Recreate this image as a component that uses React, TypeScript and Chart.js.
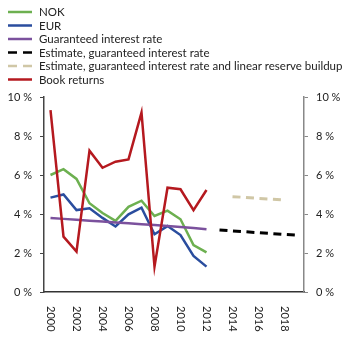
import React, { useEffect, useRef } from "react";
import { Chart, registerables } from "chart.js";

Chart.register(...registerables);

const years = ["2000","2001","2002","2003","2004","2005","2006","2007","2008","2009","2010","2011","2012","2013","2014","2015","2016","2017","2018","2019"];
const xTickLabels = ["2000","2002","2004","2006","2008","2010","2012","2014","2016","2018"];
const yTicks = [0, 2, 4, 6, 8, 10];

const nok = [6.0, 6.3, 5.8, 4.55, 4.05, 3.65, 4.37, 4.68, 3.9, 4.17, 3.73, 2.41, 2.03];
const eur = [4.84, 5.0, 4.2, 4.29, 3.8, 3.36, 3.98, 4.32, 2.96, 3.38, 2.92, 1.85, 1.3];
const guaranteed = [3.8, 3.75, 3.7, 3.66, 3.62, 3.57, 3.52, 3.48, 3.43, 3.38, 3.33, 3.28, 3.22];
const estimate = [null, null, null, null, null, null, null, null, null, null, null, null, null, 3.18, 3.13, 3.09, 3.04, 3.0, 2.95, 2.91];
const estimateReserve = [null, null, null, null, null, null, null, null, null, null, null, null, null, null, 4.89, 4.85, 4.8, 4.76, 4.72, null];
const bookReturns = [9.33, 2.84, 2.07, 7.25, 6.37, 6.68, 6.8, 9.2, 1.3, 5.35, 5.27, 4.2, 5.23];

const FONT = "Lato, 'DejaVu Sans', sans-serif";

const legendPlugin = {
  id: "customLegend",
  afterDraw(chart: any) {
    const ctx = chart.ctx;
    ctx.save();
    ctx.font = `11.5px ${FONT}`;
    ctx.textBaseline = "middle";
    ctx.textAlign = "left";
    chart.data.datasets.forEach((ds: any, i: number) => {
      const y = 12 + i * 13.5;
      ctx.beginPath();
      ctx.strokeStyle = ds.borderColor;
      ctx.lineWidth = 2.5;
      ctx.setLineDash(ds.borderDash && ds.borderDash.length ? [9, 6] : []);
      ctx.moveTo(8, y);
      ctx.lineTo(32, y);
      ctx.stroke();
      ctx.setLineDash([]);
      ctx.fillStyle = "#222";
      ctx.fillText(ds.label, 39, y + 0.5);
    });
    ctx.restore();
  },
};

const xLabelPlugin = {
  id: "rotatedXLabels",
  afterDraw(chart: any) {
    const ctx = chart.ctx;
    const xs = chart.scales.x;
    const top = chart.chartArea.bottom + 14;
    ctx.save();
    ctx.font = `11px ${FONT}`;
    ctx.fillStyle = "#222";
    ctx.textAlign = "left";
    ctx.textBaseline = "middle";
    xTickLabels.forEach((lab) => {
      const x = xs.getPixelForValue(years.indexOf(lab));
      ctx.save();
      ctx.translate(x, top);
      ctx.rotate(Math.PI / 2);
      ctx.fillText(lab, 0, 0);
      ctx.restore();
    });
    ctx.restore();
  },
};

export default function App() {
  const ref = useRef<HTMLCanvasElement>(null);
  useEffect(() => {
    if (!ref.current) return;
    const tickFont = { family: FONT, size: 11 };
    const chart = new Chart(ref.current, {
      type: "line",
      data: {
        labels: years,
        datasets: [
          { label: "NOK", data: nok, borderColor: "#6db050", borderWidth: 2.5, order: 5, yAxisID: "y" },
          { label: "EUR", data: eur, borderColor: "#2a4d9e", borderWidth: 2.5, order: 4, yAxisID: "y" },
          { label: "Guaranteed interest rate", data: guaranteed, borderColor: "#7b519d", borderWidth: 2.5, order: 3, yAxisID: "y" },
          { label: "Estimate, guaranteed interest rate", data: estimate, borderColor: "#000000", borderWidth: 3, borderDash: [8, 5.5], order: 2, yAxisID: "y" },
          { label: "Estimate, guaranteed interest rate and linear reserve buildup", data: estimateReserve, borderColor: "#d0c7a6", borderWidth: 3, borderDash: [8, 5.5], order: 1, yAxisID: "y" },
          { label: "Book returns", data: bookReturns, borderColor: "#b5191f", borderWidth: 2.5, order: 0, yAxisID: "y" },
        ] as any,
      },
      options: {
        responsive: false,
        animation: false,
        events: [],
        elements: { point: { radius: 0 }, line: { tension: 0, borderCapStyle: "butt", borderJoinStyle: "miter" } },
        layout: { padding: { top: 97, left: 0, right: 0, bottom: 0 } },
        plugins: { legend: { display: false }, tooltip: { enabled: false } },
        scales: {
          x: {
            type: "category",
            offset: true,
            ticks: { display: false },
            grid: { display: true, drawOnChartArea: false, drawTicks: false },
            border: { color: "#333", width: 1.5 },
            afterFit: (s: any) => { s.height = 53; },
          },
          y: {
            position: "left",
            min: 0,
            max: 10,
            afterBuildTicks: (s: any) => { s.ticks = yTicks.map((v) => ({ value: v })); },
            ticks: { callback: (v: any) => `${v} %`, padding: 8, color: "#222", font: tickFont },
            grid: { drawOnChartArea: false, tickLength: 4, color: "#444" },
            border: { color: "#444", width: 1.5 },
            afterFit: (s: any) => { s.width = 44; },
          },
          y2: {
            position: "right",
            min: 0,
            max: 10,
            afterBuildTicks: (s: any) => { s.ticks = yTicks.map((v) => ({ value: v })); },
            ticks: { callback: (v: any) => `${v} %`, padding: 8, color: "#222", font: tickFont },
            grid: { drawOnChartArea: false, tickLength: 4, color: "#888" },
            border: { color: "#888", width: 1.5 },
            afterFit: (s: any) => { s.width = 46; },
          },
        },
      } as any,
      plugins: [legendPlugin, xLabelPlugin],
    });
    return () => chart.destroy();
  }, []);
  return (
    <div style={{ position: "absolute", left: 0, top: 0, width: 350, height: 345 }}>
      <canvas ref={ref} width={350} height={345} style={{ width: 350, height: 345 }} />
    </div>
  );
}
